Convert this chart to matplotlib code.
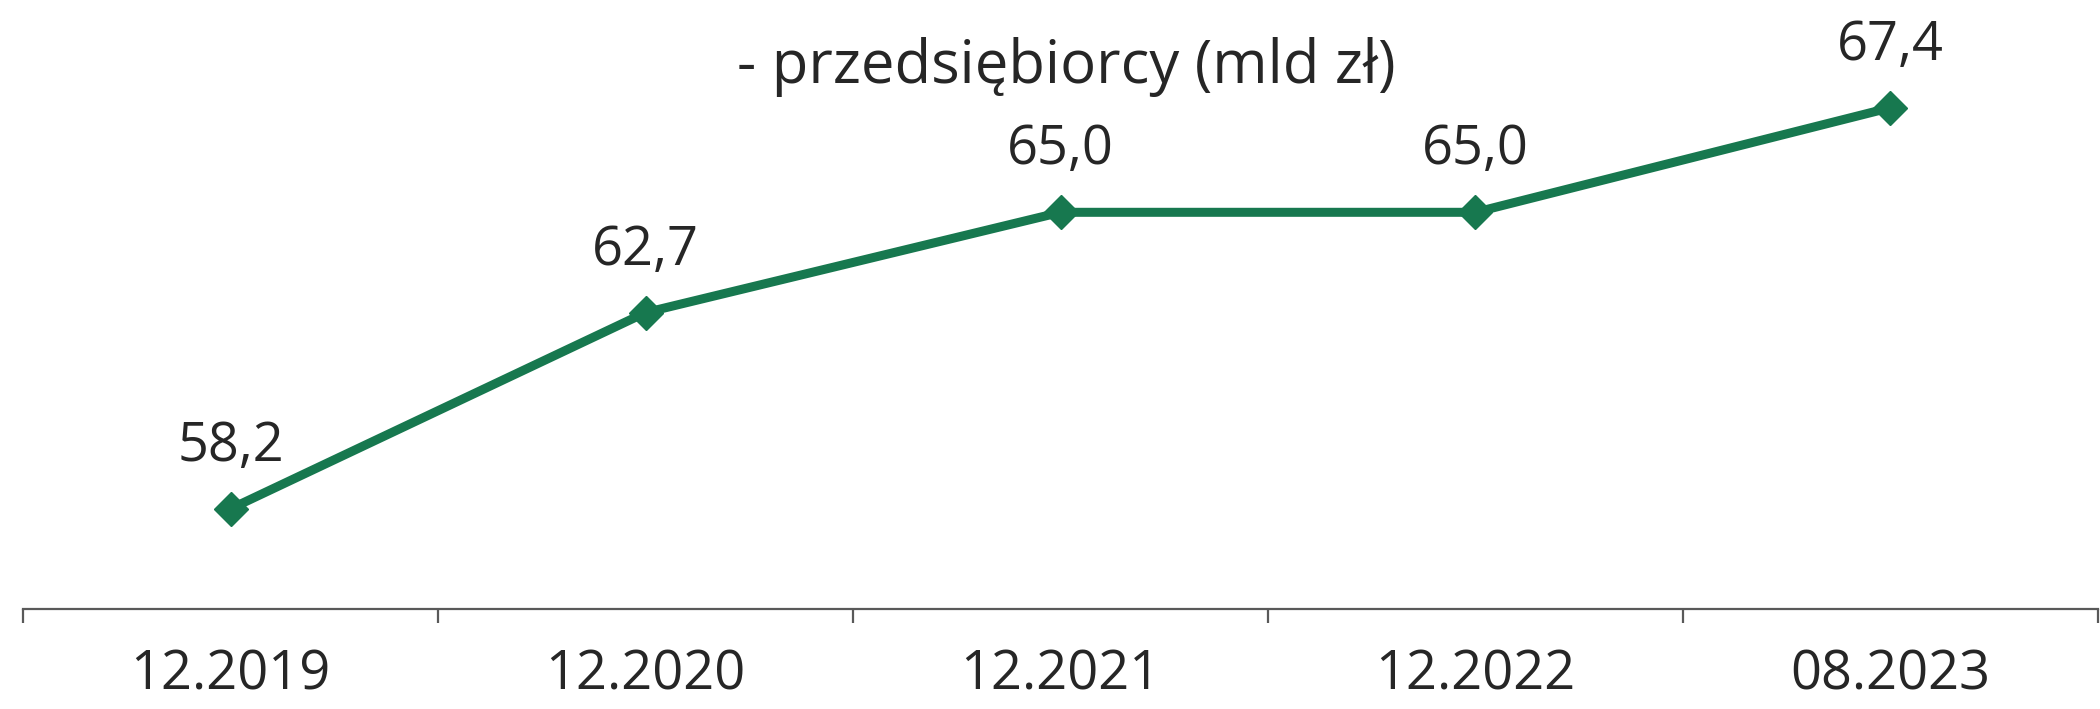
import matplotlib.pyplot as plt
import numpy as np

# data
dates = ['12.2019', '12.2020', '12.2021', '12.2022', '08.2023']
values = [58.2, 62.7, 65.0, 65.0, 67.4]
labels = ['58,2', '62,7', '65,0', '65,0', '67,4']
title = '- przedsiębiorcy (mld zł)'

plt.rcParams['font.family'] = ['Open Sans', 'DejaVu Sans']
green = '#17784f'
txt = '#262626'

fig = plt.figure(figsize=(21, 7.09), dpi=100)
ax = fig.add_axes([0.011, 0.141, 0.988, 0.859])

x = np.arange(len(dates))
ax.plot(x, values, color=green, lw=6.5, marker='D', ms=17, zorder=3)

for xi, v, lab in zip(x, values, labels):
    ax.annotate(lab, (xi, v), xytext=(0, 45), textcoords='offset points',
                ha='center', va='center', fontsize=39, color=txt)

ax.set_xlim(-0.5, 4.5)
ax.set_ylim(55.9, 69.87)

for s in ['top', 'right', 'left']:
    ax.spines[s].set_visible(False)
ax.spines['bottom'].set_color('#595959')
ax.spines['bottom'].set_linewidth(1.6)

ax.set_yticks([])
ax.set_xticks(x)
ax.set_xticklabels(dates, fontsize=39, color=txt)
ax.tick_params(axis='x', which='major', length=0, pad=28)
ax.set_xticks(np.arange(-0.5, 5, 1), minor=True)
ax.tick_params(axis='x', which='minor', length=10, width=1.6, color='#595959')

fig.text(0.508, 0.905, title, ha='center', va='center', fontsize=43, color=txt)

fig.savefig('out.png', dpi=100)
